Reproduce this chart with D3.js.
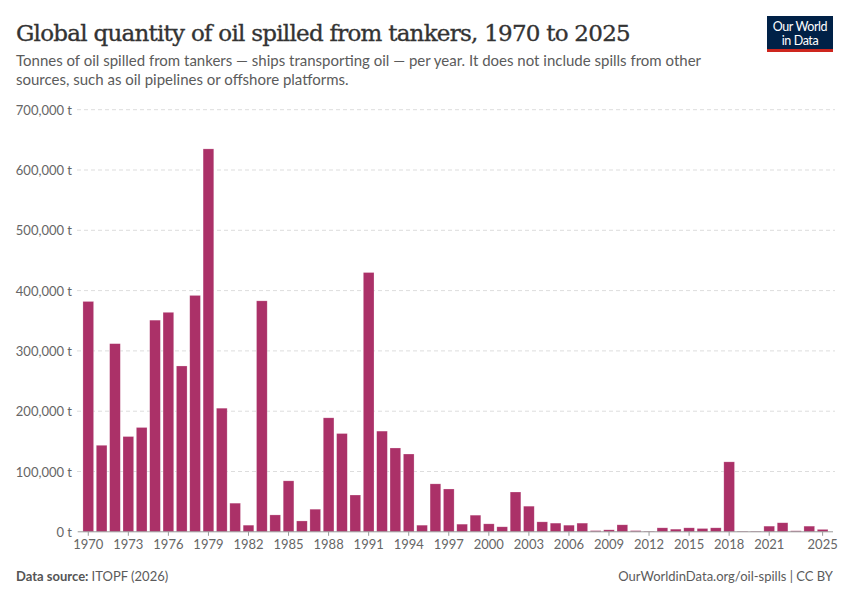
<!DOCTYPE html>
<html>
<head>
<meta charset="utf-8">
<script src="https://cdn.jsdelivr.net/npm/d3@7"></script>
<style>
  body { margin: 0; background: #fff; }
  svg { display: block; }
</style>
</head>
<body>
<svg id="chart" width="850" height="600"></svg>
<script>
const years = d3.range(1970, 2026);
const spilled = [
  382000, 143500, 312000, 158000, 173000, 351000, 364000, 275000, 392000, 635000,
  205000, 47500, 11000, 383000, 28000, 84500, 18000, 37500, 189000, 163000,
  61000, 430000, 167000, 139000, 129000, 11000, 79500, 71000, 12700, 27600,
  13200, 8300, 66000, 42500, 16500, 14400, 11000, 14400, 2000, 3300,
  11600, 2000, 1000, 6600, 4400, 6600, 5500, 6600, 116000, 1000,
  1000, 9400, 15000, 1700, 9400, 4000
];
const yTicks = [0, 100000, 200000, 300000, 400000, 500000, 600000, 700000];
const xTickYears = [1970, 1973, 1976, 1979, 1982, 1985, 1988, 1991, 1994, 1997, 2000, 2003, 2006, 2009, 2012, 2015, 2018, 2021, 2025];

const svg = d3.select("#chart");
const data = years.map((y, i) => ({ year: y, value: spilled[i] }));

const x = d3.scaleBand().domain(years).range([81.6, 829.3]).paddingInner(0.2).paddingOuter(0.1);
const y = d3.scaleLinear().domain([0, 700000]).range([531.8, 109.7]);

// Title
svg.append("text").attr("x", 16).attr("y", 41)
  .attr("font-family", "'DejaVu Serif', serif").attr("font-size", 23).attr("font-weight", 500)
  .attr("fill", "#333333").attr("letter-spacing", -0.75)
  .attr("stroke", "#333333").attr("stroke-width", 0.35)
  .text("Global quantity of oil spilled from tankers, 1970 to 2025");

// Subtitle
const sub = svg.append("text").attr("font-family", "Lato, sans-serif").attr("font-size", 15).attr("fill", "#5b5b5b");
sub.append("tspan").attr("x", 16).attr("y", 66).text("Tonnes of oil spilled from tankers — ships transporting oil — per year. It does not include spills from other");
sub.append("tspan").attr("x", 16).attr("y", 85).text("sources, such as oil pipelines or offshore platforms.");

// Logo
const logo = svg.append("g");
logo.append("rect").attr("x", 767).attr("y", 16).attr("width", 66).attr("height", 36).attr("fill", "#002147");
logo.append("rect").attr("x", 767).attr("y", 49).attr("width", 66).attr("height", 3).attr("fill", "#ce261e");
logo.append("text").attr("x", 800).attr("y", 31).attr("text-anchor", "middle")
  .attr("font-family", "Lato, sans-serif").attr("font-size", 12.5).attr("fill", "#fff").attr("letter-spacing", -0.4).text("Our World");
logo.append("text").attr("x", 800).attr("y", 45).attr("text-anchor", "middle")
  .attr("font-family", "Lato, sans-serif").attr("font-size", 12.5).attr("fill", "#fff").attr("letter-spacing", -0.4).text("in Data");

// Y axis labels
const yAxis = d3.axisLeft(y).tickValues(yTicks).tickSize(0).tickPadding(0)
  .tickFormat(d => d3.format(",")(d) + " t");
const gy = svg.append("g").attr("transform", "translate(72,0)").call(yAxis);
gy.select(".domain").remove();
gy.selectAll("text").attr("font-family", "Lato, sans-serif").attr("font-size", 13).attr("fill", "#666").attr("dy", "0.35em").attr("x", 0);

// Gridlines
svg.append("g").selectAll("line").data(yTicks.filter(d => d > 0)).join("line")
  .attr("x1", 77).attr("x2", 835)
  .attr("y1", d => y(d)).attr("y2", d => y(d))
  .attr("stroke", "#dddddd").attr("stroke-width", 1).attr("stroke-dasharray", "4,3");

// Bars
svg.append("g").selectAll("rect").data(data).join("rect")
  .attr("x", d => x(d.year)).attr("width", x.bandwidth())
  .attr("y", d => y(d.value)).attr("height", d => y(0) - y(d.value))
  .attr("fill", "#ab3168").attr("stroke", "#fff").attr("stroke-opacity", 0.4).attr("stroke-width", 0.6);

// X axis
const xAxis = d3.axisBottom(x).tickValues(xTickYears).tickSize(4).tickPadding(4).tickFormat(d3.format("d"));
const gx = svg.append("g").attr("transform", `translate(0,${y(0)})`).call(xAxis);
gx.select(".domain").remove();
gx.selectAll("line").attr("stroke", "#999");
gx.selectAll("text").attr("font-family", "Lato, sans-serif").attr("font-size", 13).attr("fill", "#666");
svg.append("line").attr("x1", 77.7).attr("x2", 833).attr("y1", y(0)).attr("y2", y(0)).attr("stroke", "#999").attr("stroke-width", 1);

// Footer
const foot = svg.append("text").attr("x", 16).attr("y", 581).attr("font-family", "Lato, sans-serif").attr("font-size", 13).attr("fill", "#5b5b5b");
foot.append("tspan").attr("font-weight", 700).attr("fill", "#555").text("Data source: ");
foot.append("tspan").text("ITOPF (2026)");
svg.append("text").attr("x", 833).attr("y", 581).attr("text-anchor", "end")
  .attr("font-family", "Lato, sans-serif").attr("font-size", 13).attr("fill", "#5b5b5b")
  .text("OurWorldinData.org/oil-spills | CC BY");
</script>
</body>
</html>
